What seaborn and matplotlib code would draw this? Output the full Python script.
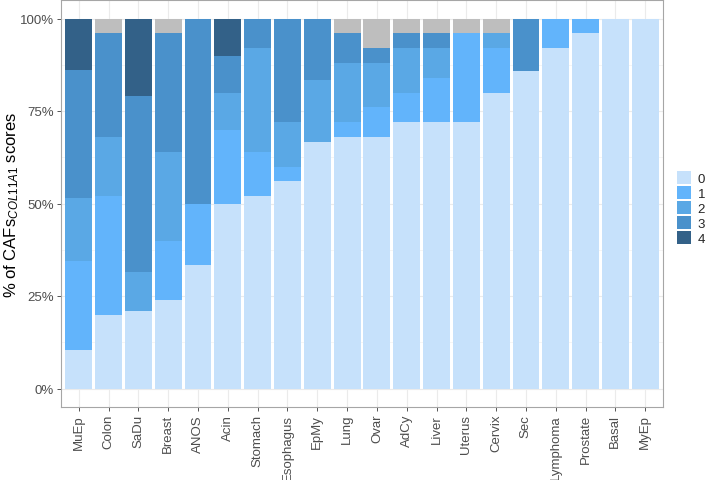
import numpy as np
import pandas as pd
import seaborn as sns
import matplotlib.pyplot as plt
from matplotlib.patches import Patch
from matplotlib.ticker import FixedLocator, PercentFormatter

# Data (percent of CAFs per score)
tumours = ["MuEp", "Colon", "SaDu", "Breast", "ANOS", "Acin", "Stomach",
           "Esophagus", "EpMy", "Lung", "Ovar", "AdCy", "Liver", "Uterus",
           "Cervix", "Sec", "Lymphoma", "Prostate", "Basal", "MyEp"]
score_0 = [10.3, 20, 21.05, 24, 33.3, 50, 52, 56, 66.7, 68, 68, 72, 72, 72, 80, 85.7, 92, 96, 100, 100]
score_1 = [24.1, 32, 0, 16, 16.7, 20, 12, 4, 0, 4, 8, 8, 12, 24, 12, 0, 8, 4, 0, 0]
score_2 = [17.2, 16, 10.5, 24, 0, 10, 28, 12, 16.7, 16, 12, 12, 8, 0, 4, 0, 0, 0, 0, 0]
score_3 = [34.5, 28, 47.4, 32, 50, 10, 8, 28, 16.6, 8, 4, 4, 4, 0, 0, 14.3, 0, 0, 0, 0]
score_4 = [13.9, 0, 21.05, 0, 0, 10, 0, 0, 0, 0, 0, 0, 0, 0, 0, 0, 0, 0, 0, 0]
score_na = [0, 4, 0, 4, 0, 0, 0, 0, 0, 4, 8, 4, 4, 4, 4, 0, 0, 0, 0, 0]

levels = ["0", "1", "2", "3", "4", "NA"]
colours = ["#c6e1fb", "#62b4fb", "#5aa8e5", "#4a91cb", "#336188", "#bebebe"]

df = pd.DataFrame({"0": score_0, "1": score_1, "2": score_2, "3": score_3,
                   "4": score_4, "NA": score_na}, index=tumours)
df = df.div(df.sum(axis=1), axis=0) * 100
cum = df.cumsum(axis=1)

# Style
sns.set_theme(style="white")
plt.rcParams["font.family"] = ["Liberation Sans", "DejaVu Sans"]
plt.rcParams["mathtext.fontset"] = "custom"
plt.rcParams["mathtext.rm"] = "Liberation Sans"
plt.rcParams["mathtext.it"] = "Liberation Sans:italic"

fig = plt.figure(figsize=(7.08, 4.81), dpi=100)
ax = fig.add_axes([61 / 708, 73 / 481, (663 - 61) / 708, 407 / 481])

# Stacked bars: draw cumulative totals from the top level down
for lvl, clr in zip(levels[::-1], colours[::-1]):
    sns.barplot(x=tumours, y=cum[lvl].values, order=tumours, color=clr,
                saturation=1, width=0.9, linewidth=0, errorbar=None, ax=ax)

# Axes
ax.set_xlim(-0.6, len(tumours) - 0.4)
ax.set_ylim(-5, 105)
ax.yaxis.set_major_locator(FixedLocator([0, 25, 50, 75, 100]))
ax.yaxis.set_minor_locator(FixedLocator([12.5, 37.5, 62.5, 87.5]))
ax.yaxis.set_major_formatter(PercentFormatter(decimals=0))
ax.set_axisbelow(True)
ax.grid(which="major", color="#ebebeb", linewidth=0.8)
ax.grid(which="minor", axis="y", color="#f2f2f2", linewidth=0.5)
for s in ax.spines.values():
    s.set_color("#a6a6a6")
    s.set_linewidth(0.8)
ax.tick_params(axis="both", which="major", length=3, width=0.7,
               color="#555555", labelcolor="#4d4d4d", labelsize=9.5, pad=2,
               left=True, bottom=True)
ax.tick_params(axis="y", which="minor", length=0)
plt.setp(ax.get_xticklabels(), rotation=90, ha="center", va="top")

ax.set_xlabel("")
ax.set_ylabel(r"% of CAFs$_{\mathit{COL11A1}}$ scores", fontsize=12,
              color="black")
ax.yaxis.set_label_coords(-40 / 602, 0.5)

# Legend (scores 0-4 only)
handles = [Patch(facecolor=c, edgecolor="none", label=l)
           for l, c in zip(levels[:5], colours[:5])]
fig.legend(handles=handles, loc="center left", bbox_to_anchor=(676 / 708, 1 - 209 / 481),
           frameon=False, fontsize=9.5, handlelength=1.05, handleheight=1.1,
           labelspacing=0.08, handletextpad=0.5, borderpad=0.1,
           borderaxespad=0)

fig.savefig("out.png", dpi=100)
